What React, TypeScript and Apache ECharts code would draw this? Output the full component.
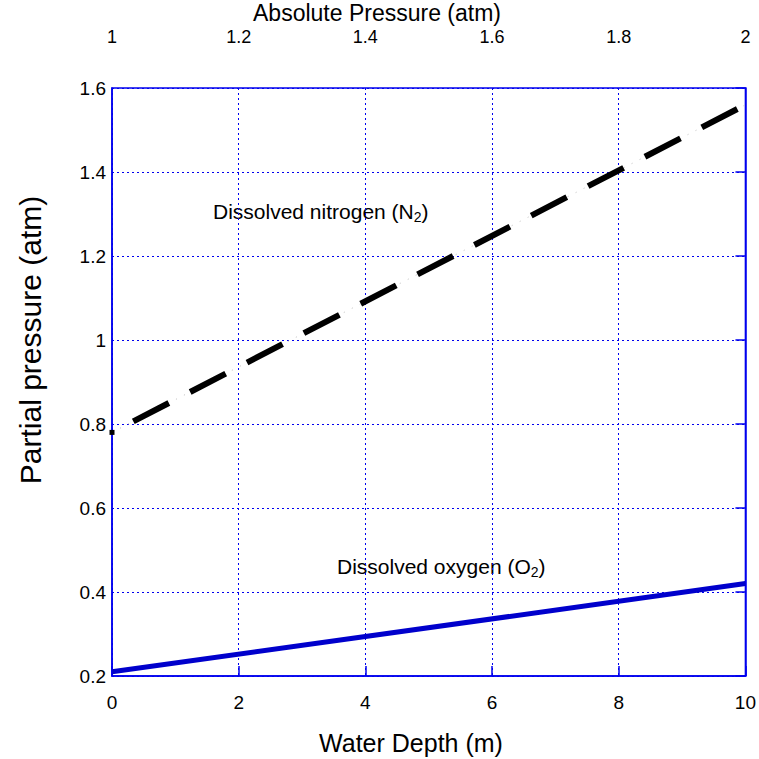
import React, { useEffect, useRef } from "react";
import * as echarts from "echarts";

const depths = [0, 10];
const nitrogen = [0.78, 1.56];
const oxygen = [0.21, 0.42];
const xTicksTop = [1, 1.2, 1.4, 1.6, 1.8, 2];

const BLUE = "#0000ee";
const FONT = "Liberation Sans, Arial, sans-serif";

export default function App() {
  const ref = useRef<HTMLDivElement>(null);
  useEffect(() => {
    if (!ref.current) return;
    const chart = echarts.init(ref.current, undefined, { renderer: "svg" });
    const n2Data = depths.map((d, i) =>
      i === 0
        ? { value: [d, nitrogen[i]], symbol: "rect", symbolSize: 5 }
        : { value: [d, nitrogen[i]], symbol: "none" }
    );
    const sub = {
      n: { fontSize: 21, lineHeight: 26, verticalAlign: "middle", fontFamily: FONT },
      s: { fontSize: 14, lineHeight: 12, verticalAlign: "bottom", fontFamily: FONT },
    };
    chart.setOption({
      animation: false,
      backgroundColor: "#fff",
      grid: {
        left: 112,
        right: 11,
        top: 88,
        bottom: 83,
        show: true,
        borderColor: BLUE,
        borderWidth: 1.5,
      },
      xAxis: [
        {
          type: "value",
          min: 0,
          max: 10,
          interval: 2,
          position: "bottom",
          axisLine: { show: true, lineStyle: { color: BLUE, width: 1.5 } },
          axisTick: { show: true, inside: true, length: 10, lineStyle: { color: BLUE, width: 1.5 } },
          axisLabel: { color: "#000", fontSize: 19, fontFamily: FONT, margin: 17 },
          splitLine: { show: true, lineStyle: { color: BLUE, type: [2, 3], width: 1 } },
        },
        {
          type: "value",
          min: 1,
          max: 2,
          interval: 0.2,
          position: "top",
          axisLine: { show: false },
          axisTick: { show: false },
          axisLabel: {
            color: "#000",
            fontSize: 18,
            fontFamily: FONT,
            margin: 42,
            formatter: (v: number) => {
              const m = xTicksTop.find((t) => Math.abs(t - v) < 1e-6);
              return m !== undefined ? String(m) : "";
            },
          },
          splitLine: { show: false },
        },
      ],
      yAxis: [
        {
          type: "value",
          min: 0.2,
          max: 1.6,
          interval: 0.2,
          position: "left",
          axisLine: { show: true, lineStyle: { color: BLUE, width: 1.5 } },
          axisTick: { show: false },
          axisLabel: {
            color: "#000",
            fontSize: 19,
            fontFamily: FONT,
            margin: 6,
            formatter: (v: number) => String(Math.round(v * 10) / 10),
          },
          splitLine: { show: true, lineStyle: { color: BLUE, type: [2, 3], width: 1 } },
        },
        {
          type: "value",
          min: 0.2,
          max: 1.6,
          interval: 0.2,
          position: "right",
          axisLine: { show: true, lineStyle: { color: BLUE, width: 1.5 } },
          axisTick: { show: true, inside: true, length: 10, lineStyle: { color: BLUE, width: 1.5 } },
          axisLabel: { show: false },
          splitLine: { show: false },
        },
      ],
      series: [
        {
          name: "N2 faint",
          type: "line",
          data: depths.map((d, i) => [d, nitrogen[i]]),
          showSymbol: false,
          silent: true,
          lineStyle: { color: "#bbbbbb", width: 1, type: [1, 8] },
        },
        {
          name: "Dissolved nitrogen (N2)",
          type: "line",
          data: n2Data,
          showSymbol: true,
          symbol: "none",
          itemStyle: { color: "#000" },
          lineStyle: { color: "#000", width: 6, type: [40, 24], dashOffset: 40 },
        },
        {
          name: "Dissolved oxygen (O2)",
          type: "line",
          data: depths.map((d, i) => [d, oxygen[i]]),
          showSymbol: false,
          lineStyle: { color: "#0000cc", width: 5 },
        },
      ],
      graphic: [
        {
          type: "text",
          x: 377,
          y: 13,
          style: {
            text: "Absolute Pressure (atm)",
            fontSize: 23,
            fontFamily: FONT,
            fill: "#000",
            align: "center",
            verticalAlign: "middle",
          },
        },
        {
          type: "text",
          x: 411,
          y: 743,
          style: {
            text: "Water Depth (m)",
            fontSize: 25,
            fontFamily: FONT,
            fill: "#000",
            align: "center",
            verticalAlign: "middle",
          },
        },
        {
          type: "text",
          x: 30,
          y: 340,
          rotation: Math.PI / 2,
          style: {
            text: "Partial pressure (atm)",
            fontSize: 30,
            fontFamily: FONT,
            fill: "#000",
            align: "center",
            verticalAlign: "middle",
          },
        },
        {
          type: "text",
          x: 213,
          y: 198,
          style: {
            text: "{n|Dissolved nitrogen (N}{s|2}{n|)}",
            fontFamily: FONT,
            fill: "#000",
            align: "left",
            verticalAlign: "top",
            rich: sub,
          },
        },
        {
          type: "text",
          x: 337,
          y: 553,
          style: {
            text: "{n|Dissolved oxygen (O}{s|2}{n|)}",
            fontFamily: FONT,
            fill: "#000",
            align: "left",
            verticalAlign: "top",
            rich: sub,
          },
        },
      ],
    });
    return () => chart.dispose();
  }, []);
  return <div ref={ref} style={{ width: 759, height: 759, position: "absolute", left: 0, top: 0 }} />;
}
